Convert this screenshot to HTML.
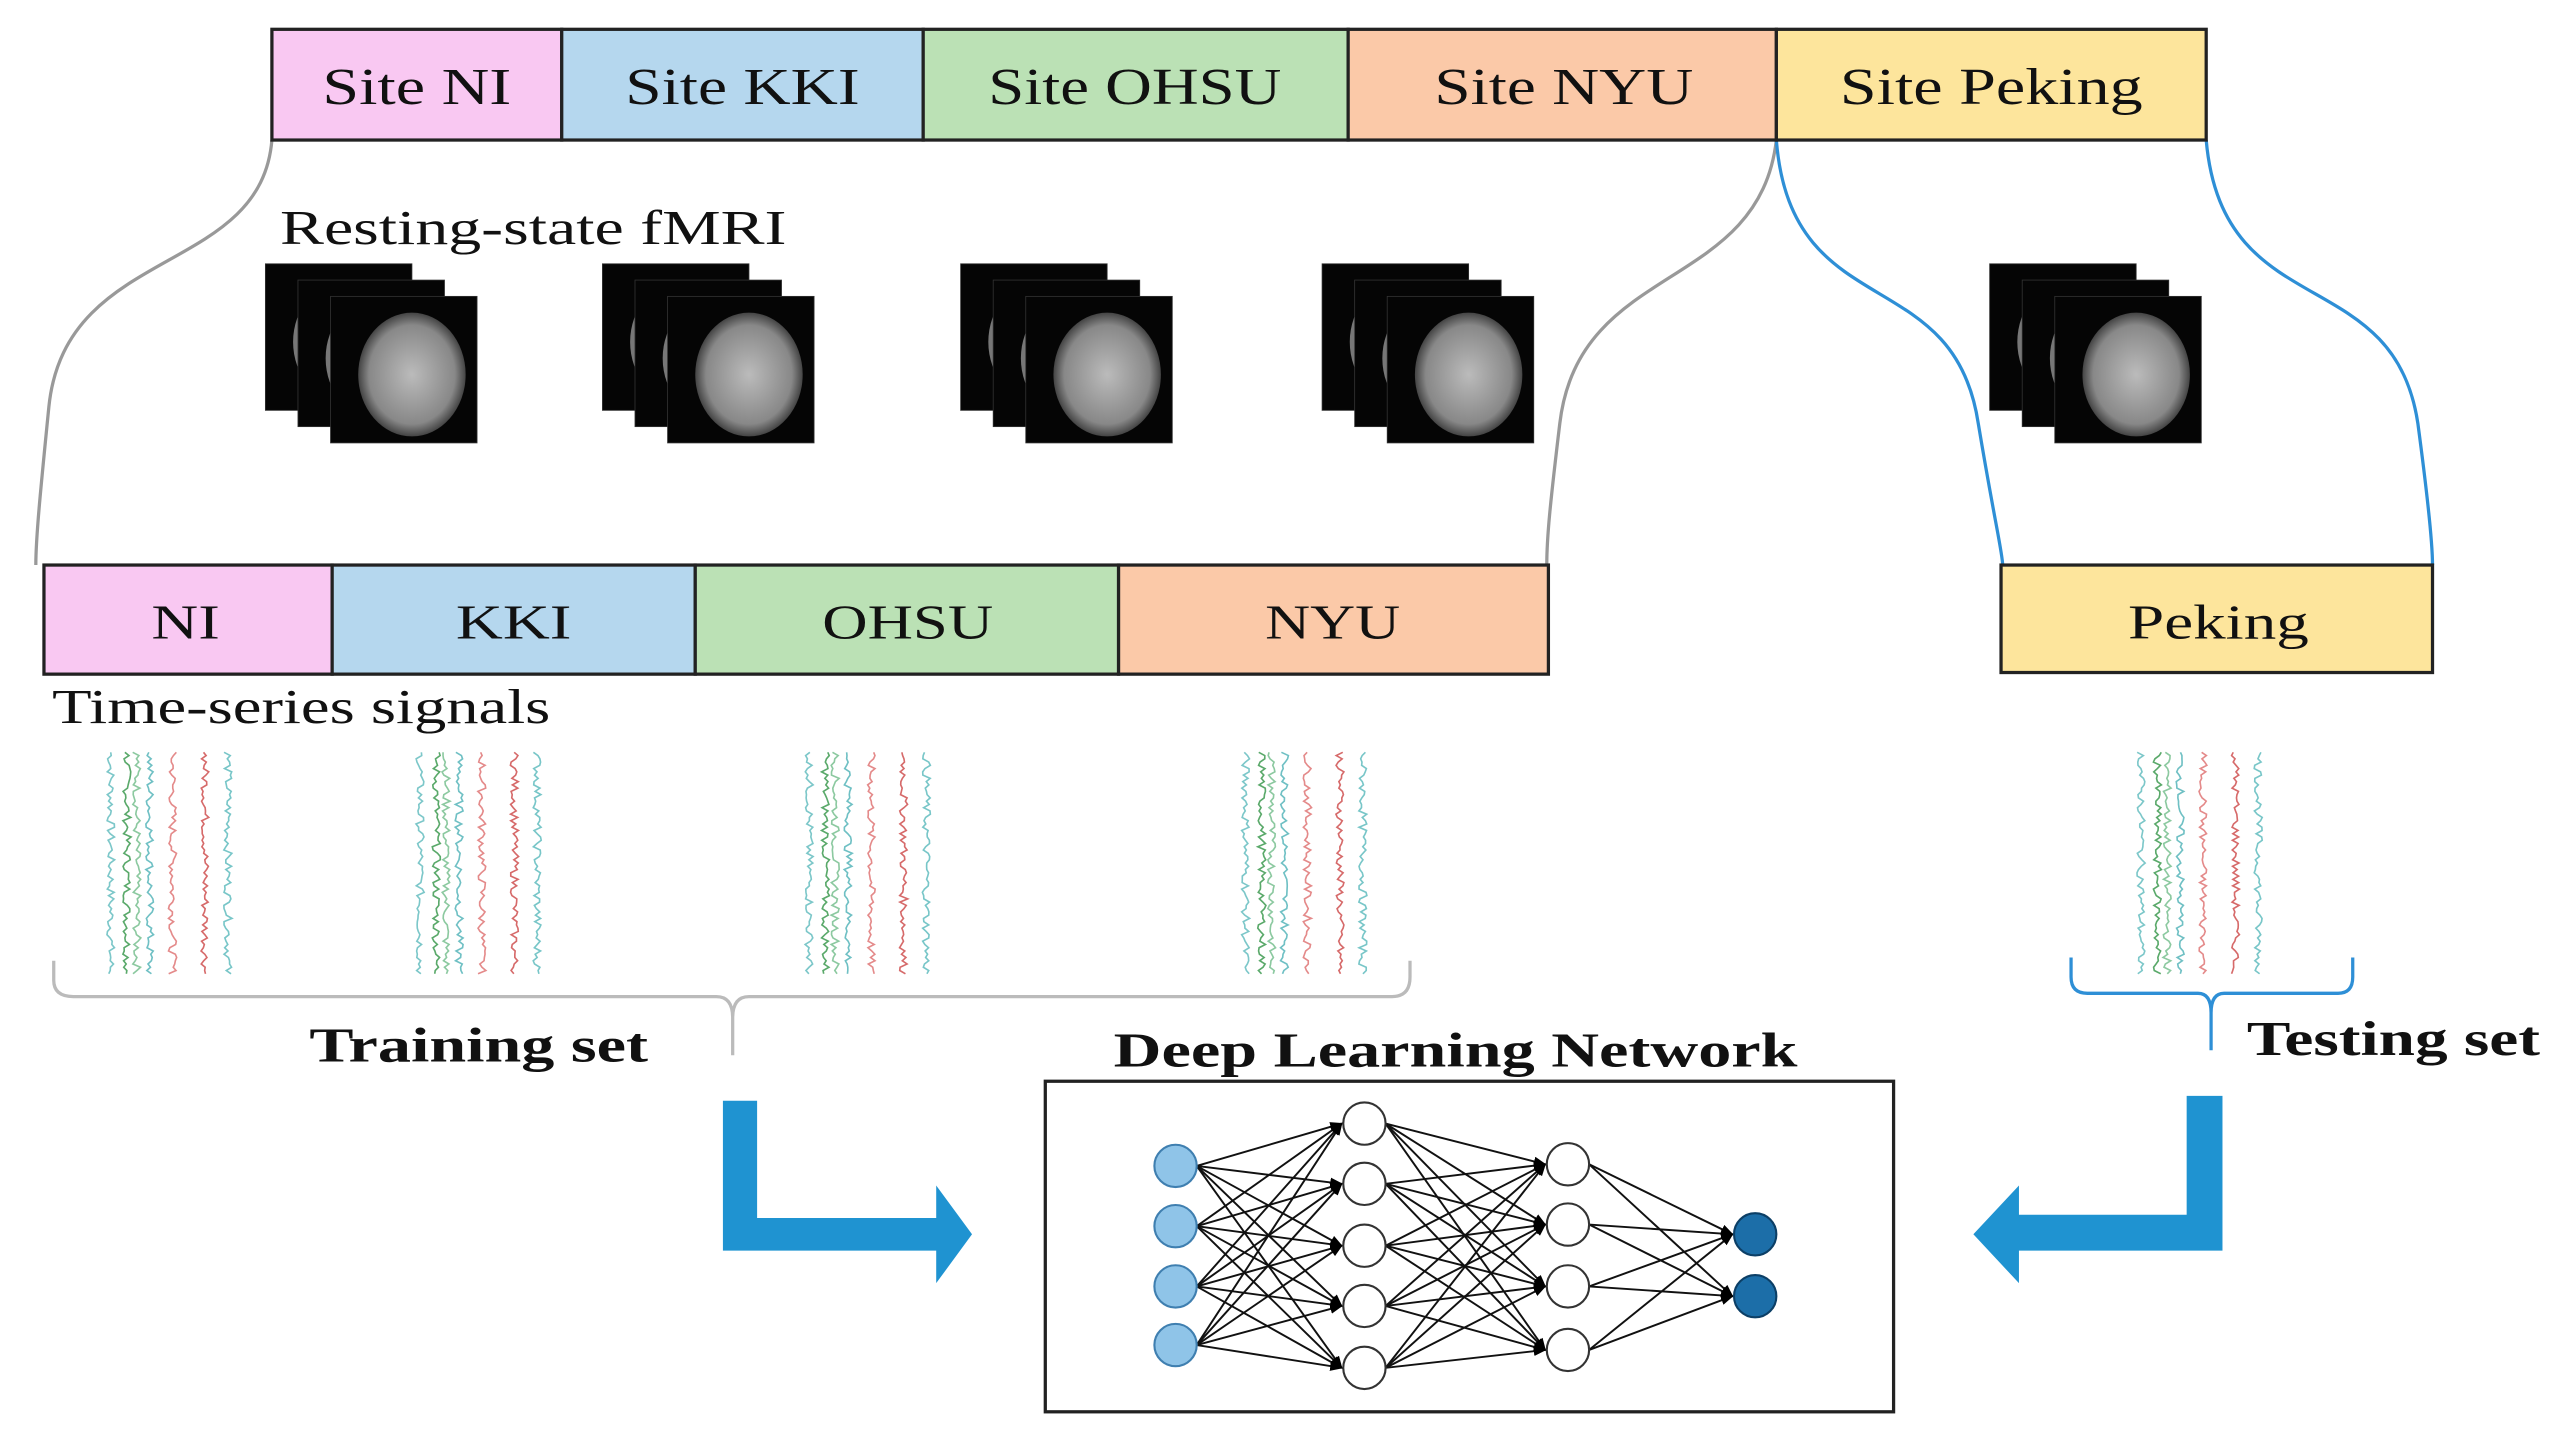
<!DOCTYPE html>
<html><head><meta charset="utf-8"><style>
html,body{margin:0;padding:0;background:#fff}
svg{display:block}
text{font-family:"Liberation Serif",serif}
</style></head><body>
<svg id="s" width="2553" height="1446" viewBox="0 0 1568 888" preserveAspectRatio="none" xmlns="http://www.w3.org/2000/svg">
<defs>
<marker id="ah" markerWidth="8" markerHeight="8" refX="7" refY="4" orient="auto" markerUnits="userSpaceOnUse"><path d="M0,1 L8,4 L0,7z" fill="#000"/></marker>
<radialGradient id="br" cx="0.5" cy="0.5" r="0.5"><stop offset="0" stop-color="#bbb"/><stop offset="0.8" stop-color="#888"/><stop offset="1" stop-color="#444"/></radialGradient>
</defs>
<g fill="none" stroke-width="2">
<path d="M167,86 C160,170 40,150 30,250 C25,300 22,330 22,347" stroke="#999"/>
<path d="M1091,86 C1080,180 970,160 958,260 C952,310 950,330 950,347" stroke="#999"/>
<path d="M1091,86 C1100,200 1200,160 1215,260 C1225,320 1230,340 1230,347" stroke="#2e8fd6"/>
<path d="M1355,86 C1365,200 1470,160 1485,260 C1493,320 1494,340 1494,347" stroke="#2e8fd6"/>
</g>
<g stroke="#222" stroke-width="2">
<rect x="167" y="18" width="178" height="68" fill="#f9c8f2"/>
<rect x="345" y="18" width="222" height="68" fill="#b5d7ee"/>
<rect x="567" y="18" width="261" height="68" fill="#bbe1b5"/>
<rect x="828" y="18" width="263" height="68" fill="#fbc9a8"/>
<rect x="1091" y="18" width="264" height="68" fill="#fde59c"/>
</g>
<g font-size="32" fill="#111" lengthAdjust="spacingAndGlyphs">
<text x="198" y="64" textLength="116" lengthAdjust="spacingAndGlyphs">Site NI</text>
<text x="384" y="64" textLength="144" lengthAdjust="spacingAndGlyphs">Site KKI</text>
<text x="607" y="64" textLength="180" lengthAdjust="spacingAndGlyphs">Site OHSU</text>
<text x="881" y="64" textLength="159" lengthAdjust="spacingAndGlyphs">Site NYU</text>
<text x="1130" y="64" textLength="186" lengthAdjust="spacingAndGlyphs">Site Peking</text>
</g>
<text x="172" y="150" font-size="30" fill="#111" textLength="311" lengthAdjust="spacingAndGlyphs">Resting-state fMRI</text>
<g id="stacks"></g>
<g stroke="#222" stroke-width="2">
<rect x="27" y="347" width="177" height="67" fill="#f9c8f2"/>
<rect x="204" y="347" width="223" height="67" fill="#b5d7ee"/>
<rect x="427" y="347" width="260" height="67" fill="#bbe1b5"/>
<rect x="687" y="347" width="264" height="67" fill="#fbc9a8"/>
<rect x="1229" y="347" width="265" height="66" fill="#fde59c"/>
</g>
<g font-size="30" fill="#111">
<text x="93" y="392" textLength="42" lengthAdjust="spacingAndGlyphs">NI</text>
<text x="280" y="392" textLength="71" lengthAdjust="spacingAndGlyphs">KKI</text>
<text x="505" y="392" textLength="105" lengthAdjust="spacingAndGlyphs">OHSU</text>
<text x="777" y="392" textLength="83" lengthAdjust="spacingAndGlyphs">NYU</text>
<text x="1307" y="392" textLength="111" lengthAdjust="spacingAndGlyphs">Peking</text>
</g>
<text x="32" y="444" font-size="30" fill="#111" textLength="306" lengthAdjust="spacingAndGlyphs">Time-series  signals</text>
<g id="ts" fill="none" stroke-width="1"></g>
<path d="M33,590 L33,602 Q33,612 45,612 L440,612 Q450,612 450,625 L450,648 M450,625 Q450,612 460,612 L855,612 Q866,612 866,600 L866,590" fill="none" stroke="#bbb" stroke-width="2"/>
<path d="M1272,588 L1272,600 Q1272,610 1282,610 L1350,610 Q1358,610 1358,622 L1358,645 M1358,622 Q1358,610 1366,610 L1436,610 Q1445,610 1445,600 L1445,588" fill="none" stroke="#2e8fd6" stroke-width="2"/>
<g font-size="30" font-weight="bold" fill="#111">
<text x="190" y="652" textLength="208" lengthAdjust="spacingAndGlyphs">Training set</text>
<text x="1380" y="648" textLength="180" lengthAdjust="spacingAndGlyphs">Testing set</text>
<text x="684" y="655" textLength="420" lengthAdjust="spacingAndGlyphs">Deep Learning Network</text>
</g>
<path d="M444,676 L465,676 L465,748 L575,748 L575,728 L597,758 L575,788 L575,768 L444,768 Z" fill="#1f93d1"/>
<path d="M1365,673 L1343,673 L1343,746 L1240,746 L1240,728 L1212,758 L1240,788 L1240,768 L1365,768 Z" fill="#1f93d1"/>
<rect x="642" y="664" width="521" height="203" fill="#fff" stroke="#222" stroke-width="2"/>
<g id="net"></g>
</svg>
<script>
var NS="http://www.w3.org/2000/svg";
function el(t,a,p){var e=document.createElementNS(NS,t);for(var k in a)e.setAttribute(k,a[k]);(p||document.getElementById('s')).appendChild(e);return e;}
var st=document.getElementById('stacks');
[163,370,590,812,1222].forEach(function(x){
 for(var i=0;i<3;i++){el('rect',{x:x+i*20,y:162+i*10,width:90,height:90,fill:'#050505',stroke:'#333','stroke-width':0.5},st);
  el('ellipse',{cx:x+i*20+50,cy:162+i*10+48,rx:33,ry:38,fill:i==2?'url(#br)':'#777'},st);}
});
var ts=document.getElementById('ts');
var seed=7;function r(){seed=(seed*9301+49297)%233280;return seed/233280;}
[68,258,497,765,1315].forEach(function(x){
 var cols=[['#7cc7c9',0],['#5aa96a',10],['#8cc9a0',16],['#6fc0c4',24],['#e48a8a',38],['#d66a6a',58],['#78c6c8',72]];
 cols.forEach(function(c){var d='';for(var y=462;y<=598;y+=2){var xx=x+c[1]+ (r()-0.5)*5;d+=(d?'L':'M')+xx.toFixed(1)+','+y;}
  el('path',{d:d,stroke:c[0]},ts);});
});
var net=document.getElementById('net');
var L=[[722,[716,753,790,826],'#8fc4e8','#3f7fb0'],[838,[690,727,765,802,840],'#fff','#333'],[963,[715,752,790,829],'#fff','#333'],[1078,[758,796],'#1c6ea8','#0c3f66']];
for(var l=0;l<3;l++){L[l][1].forEach(function(y1){L[l+1][1].forEach(function(y2){
 el('line',{x1:L[l][0]+13,y1:y1,x2:L[l+1][0]-14,y2:y2,stroke:'#111','stroke-width':1.2,'marker-end':'url(#ah)'},net);});});}
L.forEach(function(a){a[1].forEach(function(y){el('circle',{cx:a[0],cy:y,r:13,fill:a[2],stroke:a[3],'stroke-width':1.3},net);});});
</script>
</body></html>
